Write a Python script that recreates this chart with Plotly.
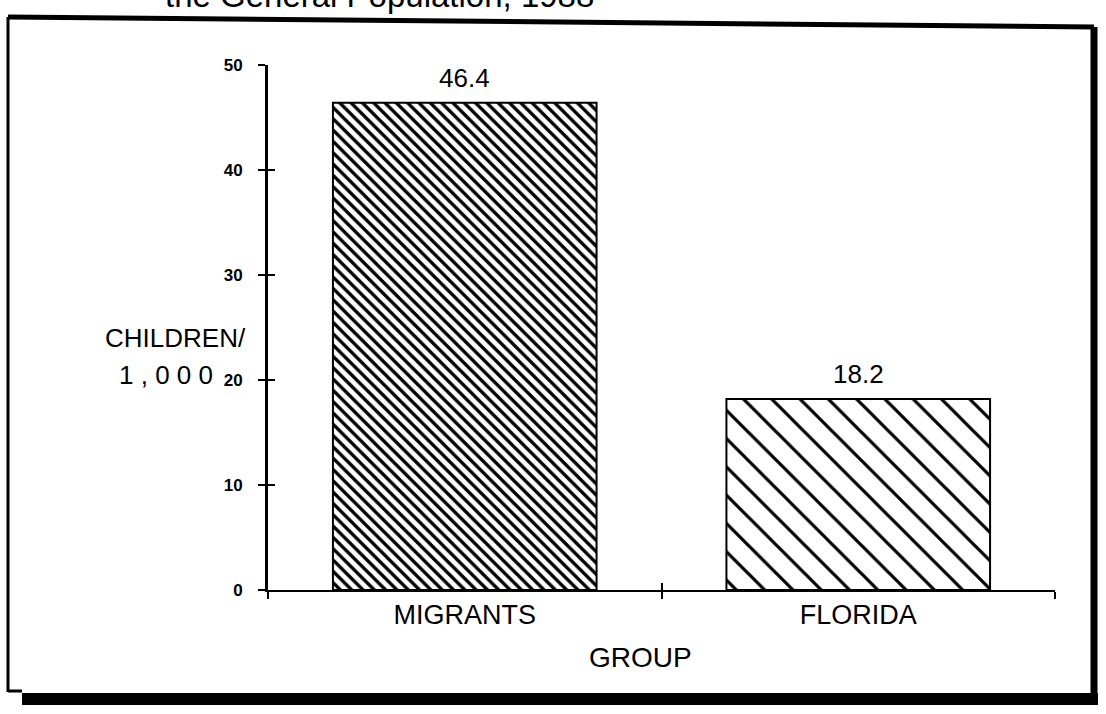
import plotly.graph_objects as go

categories = ["MIGRANTS", "FLORIDA"]
values = [46.4, 18.2]
value_labels = ["46.4", "18.2"]
pattern_sizes = [8, 20]
pattern_solidity = [0.42, 0.16]
y_ticks = [0, 10, 20, 30, 40, 50]

W, H = 1106, 714
L, R, T, B = 268, 1055, 65, 590
pw, ph = R - L, B - T

def px(x):
    return (x - L) / pw

def py(y):
    return (B - y) / ph

fig = go.Figure()
for i, (c, v) in enumerate(zip(categories, values)):
    fig.add_trace(go.Bar(
        x=[c], y=[v], width=0.67,
        marker=dict(color="white", line=dict(color="black", width=2),
                    pattern=dict(shape="\\", size=pattern_sizes[i],
                                 solidity=pattern_solidity[i],
                                 fgcolor="black", bgcolor="white", fillmode="replace")),
        showlegend=False, hoverinfo="skip",
    ))
    fig.add_annotation(text=value_labels[i], x=c, y=v, xref="x", yref="y",
                       showarrow=False, yanchor="bottom", yshift=8,
                       font=dict(family="Liberation Sans, Arial", size=26, color="black"))

# invisible trace for overlay axes (inside ticks)
fig.add_trace(go.Scatter(x=categories, y=[0, 0], xaxis="x2", yaxis="y2",
                         mode="markers", marker=dict(opacity=0), showlegend=False,
                         hoverinfo="skip"))

fig.update_layout(
    width=W, height=H,
    margin=dict(l=L, r=W - R, t=T, b=H - B),
    paper_bgcolor="white", plot_bgcolor="white",
    xaxis=dict(type="category", range=[-0.5, 1.5], showline=True, linecolor="black",
               linewidth=2, ticks="outside", ticklen=7, tickwidth=2, tickcolor="black",
               tickson="boundaries", showgrid=False, zeroline=False,
               categoryorder="array", categoryarray=categories,
               tickfont=dict(family="Liberation Sans, Arial", size=27, color="black")),
    yaxis=dict(range=[0, 50], tickvals=y_ticks, showline=True, linecolor="black",
               linewidth=3, ticks="outside", ticklen=7, tickwidth=2, tickcolor="black",
               showgrid=False, zeroline=False, ticklabelstandoff=12,
               tickfont=dict(family="Liberation Sans, Arial", size=17, color="black",
                             weight="bold")),
    xaxis2=dict(type="category", range=[-0.5, 1.5], overlaying="x", ticks="inside",
                ticklen=7, tickwidth=2, tickcolor="black", tickson="boundaries",
                showticklabels=False, showgrid=False, zeroline=False, showline=False,
                categoryorder="array", categoryarray=categories),
    yaxis2=dict(range=[0, 50], tickvals=y_ticks, overlaying="y", ticks="inside",
                ticklen=7, tickwidth=2, tickcolor="black", showticklabels=False,
                showgrid=False, zeroline=False, showline=False),
)

annos = [
    dict(text="CHILDREN/", x=px(175), y=py(338), size=26),
    dict(text="1 , 0 0 0", x=px(166), y=py(375), size=26),
    dict(text="GROUP", x=px(640), y=py(657), size=28),
]
for a in annos:
    fig.add_annotation(text=a["text"], x=a["x"], y=a["y"], xref="paper", yref="paper",
                       showarrow=False, xanchor="center", yanchor="middle",
                       font=dict(family="Liberation Sans, Arial", size=a["size"], color="black"))

fig.add_annotation(text="the General Population, 1988", x=px(163), y=py(16),
                   xref="paper", yref="paper", showarrow=False, xanchor="left",
                   yanchor="bottom", font=dict(family="Liberation Sans, Arial", size=33,
                                               color="black"))

# frame around the chart (scanned page border)
frame = [
    (8, 17, 8, 692, 3),
    (8, 17, 1094, 27, 5),
    (1094, 27, 1094, 704, 7),
    (8, 691, 22, 691, 3),
    (22, 699, 1098, 699, 12),
]
for x0, y0, x1, y1, w in frame:
    fig.add_shape(type="line", xref="paper", yref="paper",
                  x0=px(x0), y0=py(y0), x1=px(x1), y1=py(y1),
                  line=dict(color="black", width=w))

fig.write_html("out.html", config={"displayModeBar": False},
               post_script="document.body.style.margin='0';")
